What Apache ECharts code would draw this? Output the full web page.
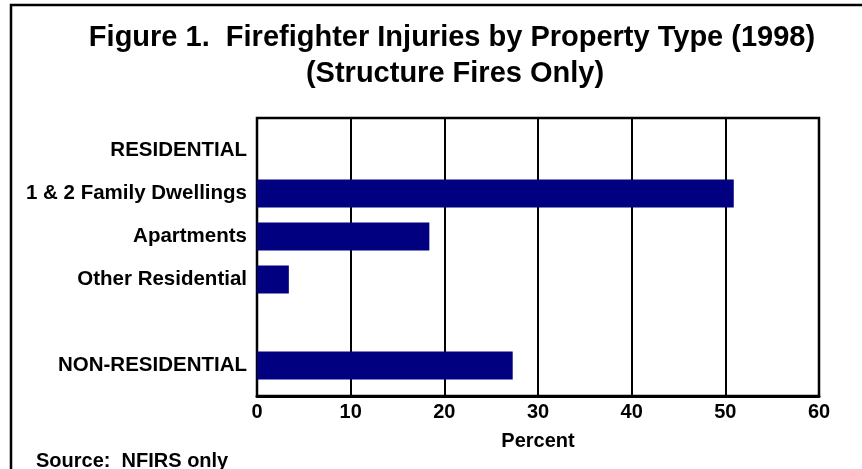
<!DOCTYPE html>
<html><head><meta charset="utf-8">
<script src="https://cdn.jsdelivr.net/npm/echarts@6/dist/echarts.min.js"></script>
<style>html,body{margin:0;padding:0;background:#fff}#c{width:862px;height:469px}</style>
</head><body><div id="c"></div>
<script>
const categories = ['RESIDENTIAL', '1 & 2 Family Dwellings', 'Apartments', 'Other Residential', '', 'NON-RESIDENTIAL'];
const percentValues = [null, 50.9, 18.4, 3.4, null, 27.3];
const xTicks = [0, 10, 20, 30, 40, 50, 60];

const FONT = '"Liberation Sans", Arial, sans-serif';
const chart = echarts.init(document.getElementById('c'), null, {renderer: 'canvas'});
const option = {
  animation: false,
  backgroundColor: '#fff',
  grid: [
    {left: 257, top: 118, width: 562, height: 278, show: true, borderColor: '#000', borderWidth: 2.5, backgroundColor: 'transparent'},
    {left: 257, top: 129, width: 562, height: 258}
  ],
  xAxis: [
    {gridIndex: 0, type: 'value', min: xTicks[0], max: xTicks[xTicks.length - 1], interval: 10,
     axisLine: {show: true, lineStyle: {color: '#000', width: 3}}, axisTick: {show: false},
     splitLine: {show: true, lineStyle: {color: '#000', width: 2}},
     axisLabel: {fontFamily: FONT, fontWeight: 'bold', fontSize: 20, color: '#000', margin: 6},
     name: 'Percent', nameLocation: 'middle', nameGap: 35,
     nameTextStyle: {fontFamily: FONT, fontWeight: 'bold', fontSize: 20, color: '#000'}},
    {gridIndex: 1, type: 'value', min: xTicks[0], max: xTicks[xTicks.length - 1], show: false, splitLine: {show: false}}
  ],
  yAxis: [
    {gridIndex: 0, type: 'value', show: false, splitLine: {show: false}},
    {gridIndex: 1, type: 'category', data: categories, inverse: true,
     axisLine: {show: false}, axisTick: {show: false}, splitLine: {show: false},
     axisLabel: {fontFamily: FONT, fontWeight: 'bold', fontSize: 20.5, color: '#000', margin: 10}}
  ],
  series: [{
    type: 'bar', xAxisIndex: 1, yAxisIndex: 1, data: percentValues, barWidth: 28,
    itemStyle: {color: '#000080'}
  }],
  graphic: [
    {type: 'polyline', shape: {points: [[11, 469], [11, 5], [862, 5]]}, style: {stroke: '#000', lineWidth: 2.5, fill: null}},
    {type: 'text', x: 452, y: 38, style: {text: 'Figure 1.  Firefighter Injuries by Property Type (1998)', align: 'center', verticalAlign: 'middle',
      font: 'bold 29px "Liberation Sans", Arial, sans-serif', fill: '#000'}},
    {type: 'text', x: 455, y: 74, style: {text: '(Structure Fires Only)', align: 'center', verticalAlign: 'middle',
      font: 'bold 29px "Liberation Sans", Arial, sans-serif', fill: '#000'}},
    {type: 'text', x: 36, y: 461, style: {text: 'Source:  NFIRS only', align: 'left', verticalAlign: 'middle',
      font: 'bold 20px "Liberation Sans", Arial, sans-serif', fill: '#000'}}
  ]
};
chart.setOption(option);
</script></body></html>
